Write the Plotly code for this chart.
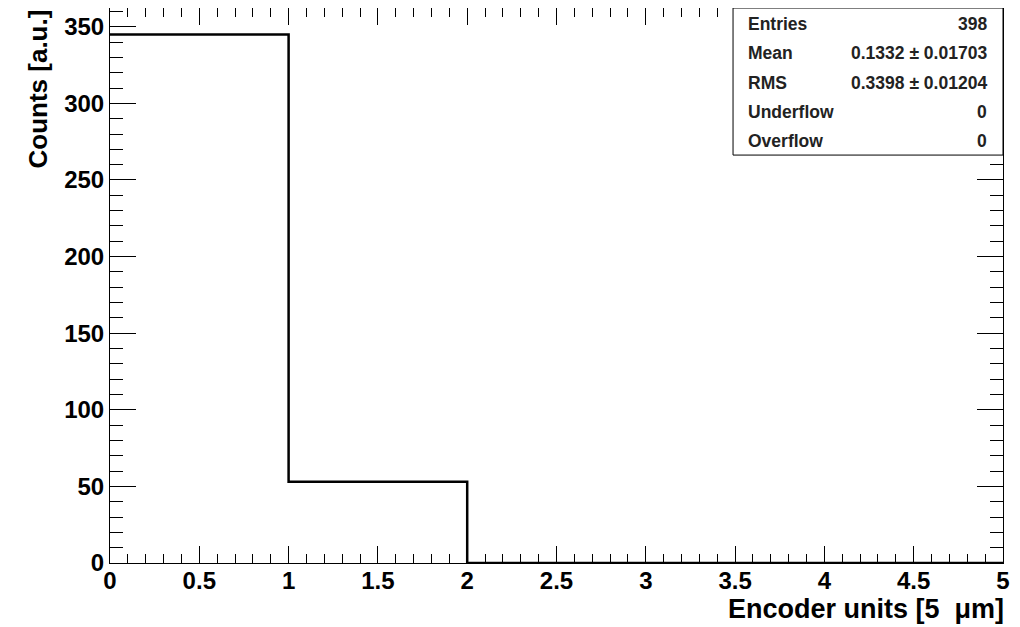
import plotly.graph_objects as go

# Data
bin_edges = [0, 1, 2, 3, 4, 5]
counts = [345, 53, 0, 0, 0]
stat_labels = ["Entries", "Mean", "RMS", "Underflow", "Overflow"]
stat_values = ["398", "0.1332 \u00b1 0.01703", "0.3398 \u00b1 0.01204", "0", "0"]
x_title = "Encoder units [5\u00a0 \u03bcm]"
y_title = "Counts [a.u.]"

FONT = "Liberation Sans, Arial, Helvetica, sans-serif"

x_line = bin_edges
y_line = counts + [counts[-1]]

fig = go.Figure()
fig.add_trace(go.Scatter(
    x=x_line, y=y_line, mode="lines", line=dict(shape="hv", color="black", width=2.5),
    hoverinfo="skip", showlegend=False, cliponaxis=False))

ymax = max(counts) * 1.05

axis_common = dict(
    showgrid=False, zeroline=False, showline=True, linecolor="black", linewidth=1,
    mirror="ticks", ticks="inside", tickcolor="black", tickwidth=1,
    tickfont=dict(family=FONT, size=24, color="black", weight="bold"),
)

# The page body has an 8px default margin; sizes compensate for it.
fig.update_layout(
    width=1004, height=619,
    margin=dict(l=102, r=9, t=0, b=64),
    paper_bgcolor="white", plot_bgcolor="white",
    xaxis=dict(range=[0, 5], dtick=0.5, tick0=0, ticklen=17, ticklabelstandoff=-4,
               minor=dict(dtick=0.1, ticks="inside", ticklen=9, tickcolor="black", tickwidth=1),
               **axis_common),
    yaxis=dict(range=[0, ymax], dtick=50, tick0=0, ticklen=26,
               minor=dict(dtick=10, ticks="inside", ticklen=13, tickcolor="black", tickwidth=1),
               **axis_common),
)

# Axis titles
fig.add_annotation(text=x_title, xref="paper", yref="paper", x=1, y=0, xanchor="right",
                   yanchor="middle", yshift=-46, xshift=3, showarrow=False,
                   font=dict(family=FONT, size=27, color="black", weight="bold"))
fig.add_annotation(text=y_title, xref="paper", yref="paper", x=0, y=1, xanchor="center",
                   yanchor="top", xshift=-73, textangle=-90, showarrow=False,
                   font=dict(family=FONT, size=26, color="black", weight="bold"))

# Stat box
bx0 = 0.6977
by0 = 0.735
fig.add_shape(type="rect", xref="paper", yref="paper", x0=bx0, x1=1, y0=by0, y1=1,
              line=dict(color="black", width=1), fillcolor="white", layer="above")
n = len(stat_labels)
for i, (lab, val) in enumerate(zip(stat_labels, stat_values)):
    yp = 1 - (i + 0.5) * (1 - by0) / n
    fig.add_annotation(text=lab, xref="paper", yref="paper", x=bx0, y=yp, xanchor="left",
                       yanchor="middle", xshift=13, yshift=-1, showarrow=False,
                       font=dict(family=FONT, size=17.5, color="#222", weight="bold"))
    fig.add_annotation(text=val, xref="paper", yref="paper", x=1, y=yp, xanchor="right",
                       yanchor="middle", xshift=-14, yshift=-1, showarrow=False,
                       font=dict(family=FONT, size=17.5, color="#222", weight="bold"))

fig.write_html("out.html")
